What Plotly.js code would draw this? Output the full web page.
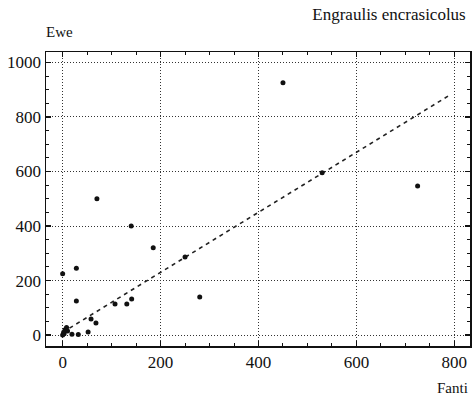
<!DOCTYPE html>
<html>
<head>
<meta charset="utf-8">
<script src="https://cdn.plot.ly/plotly-3.0.1.min.js"></script>
<style>html,body{margin:0;padding:0;background:#fff;}#chart{width:475px;height:398px;}</style>
</head>
<body>
<div id="chart"></div>
<script>
const fantiValues = [450, 725, 70, 140, 185, 28, 0, 28, 280, 107, 131, 141, 58, 68, 52, 32, 19, 250, 530, 0, 2, 5, 8, 3, 10];
const eweValues   = [925, 547, 500, 400, 320, 245, 225, 125, 140, 114, 114, 132, 59, 44, 11, 2, 3, 286, 595, 0, 10, 20, 28, 5, 15];
const fitX = [0, 787];
const fitY = [10, 876];
const xTickVals = [0, 200, 400, 600, 800];
const yTickVals = [0, 200, 400, 600, 800, 1000];
const chartTitle = 'Engraulis encrasicolus';
const xLabel = 'Fanti';
const yLabel = 'Ewe';

const serif = 'Liberation Serif';
const font = {family: serif, size: 17, color: '#111'};

const traces = [
  {x: fitX, y: fitY, type: 'scatter', mode: 'lines',
   line: {color: '#222', width: 1.6, dash: '4px,4px'}, hoverinfo: 'skip'},
  {x: fantiValues, y: eweValues, type: 'scatter', mode: 'markers',
   marker: {color: '#111', size: 5}}
];

const axisCommon = {
  showline: true, linecolor: '#111', linewidth: 1.5, mirror: 'ticks',
  ticks: 'inside', ticklen: 5, tickcolor: '#111', tickwidth: 1.2,
  showgrid: true, gridcolor: '#333', gridwidth: 1, griddash: '1px,2px',
  zeroline: false, tickfont: font,
  minor: {dtick: 50, ticks: 'inside', ticklen: 3, tickcolor: '#111', tickwidth: 1, showgrid: false}
};

const layout = {
  width: 475, height: 398,
  margin: {l: 46, r: 5, t: 52, b: 52},
  paper_bgcolor: '#fff', plot_bgcolor: '#fff',
  showlegend: false,
  font: font,
  title: {text: chartTitle, x: 0.99, xanchor: 'right', xref: 'paper', y: 0.965, yanchor: 'middle', font: {family: serif, size: 17, color: '#111'}},
  xaxis: Object.assign({}, axisCommon, {range: [-34, 832], tickvals: xTickVals, ticktext: xTickVals.map(String)}),
  yaxis: Object.assign({}, axisCommon, {range: [-40, 1038], tickvals: yTickVals, ticktext: yTickVals.map(String)}),
  annotations: [
    {text: yLabel, xref: 'paper', yref: 'paper', x: -0.005, y: 1.035, xanchor: 'left', yanchor: 'bottom', showarrow: false, font: {family: serif, size: 15, color: '#111'}},
    {text: xLabel, xref: 'paper', yref: 'paper', x: 1.0, y: -0.11, xanchor: 'right', yanchor: 'top', showarrow: false, font: {family: serif, size: 15, color: '#111'}}
  ]
};

Plotly.newPlot('chart', traces, layout, {staticPlot: true, displayModeBar: false});
</script>
</body>
</html>
